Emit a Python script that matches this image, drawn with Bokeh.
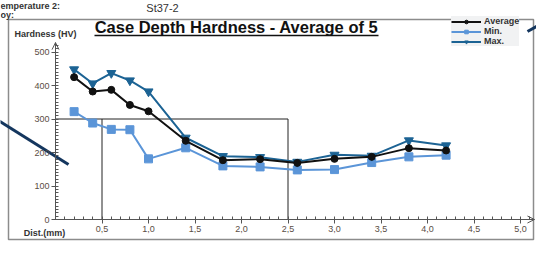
from bokeh.plotting import figure
from bokeh.models import (Range1d, FixedTicker, CustomJSTickFormatter, Label, Legend,
                          LegendItem, Arrow, OpenHead)
from bokeh.embed import file_html
from bokeh.resources import INLINE

# ---- data ----
depth_mm = [0.2, 0.4, 0.6, 0.8, 1.0, 1.4, 1.8, 2.2, 2.6, 3.0, 3.4, 3.8, 4.2]
hv_average = [425, 382, 387, 342, 323, 235, 177, 180, 169, 181, 187, 213, 206]
hv_min = [322, 288, 269, 268, 181, 214, 160, 157, 148, 149, 170, 187, 192]
hv_max = [448, 406, 437, 415, 382, 244, 189, 186, 172, 193, 190, 236, 221]

x_ticks = [0.5, 1.0, 1.5, 2.0, 2.5, 3.0, 3.5, 4.0, 4.5, 5.0]
y_ticks = [0, 100, 200, 300, 400, 500]
title_text = "Case Depth Hardness - Average of 5"
series_names = ["Average", "Min.", "Max."]
zoom_box = dict(left=0.5, right=2.5, top=300)   # overlay rectangle drawn on the document

# ---- layout (canvas pixels) ----
W, H = 536, 243
X0, SX = 55, 93.0      # canvas x of 0 mm, px per mm
Y0, SY = 219, 0.335    # canvas y of 0 HV, px per HV
FONT = "Liberation Sans"

def dx(cx):
    return (cx - X0) / SX

def dy(cy):
    return (Y0 - cy) / SY

p = figure(width=W, height=H, output_backend="svg", toolbar_location=None,
           x_range=Range1d(dx(0), dx(W)), y_range=Range1d(dy(H), dy(0)),
           min_border=0, outline_line_color=None,
           background_fill_color="white", border_fill_color="white")
p.grid.visible = False

# axes placed at the data origin
p.xaxis.fixed_location = 0
p.yaxis.fixed_location = 0
p.xaxis.bounds = (0, 5.15)
p.yaxis.bounds = (0, 528)
p.xaxis.ticker = FixedTicker(ticks=x_ticks, minor_ticks=[round(0.1 * i, 1) for i in range(1, 52)])
p.yaxis.ticker = FixedTicker(ticks=y_ticks, minor_ticks=list(range(0, 530, 10)))
p.xaxis.formatter = CustomJSTickFormatter(code="return tick.toFixed(1).replace('.', ',')")
for ax in (p.xaxis, p.yaxis):
    ax.axis_line_color = "#555555"
    ax.axis_line_width = 1
    ax.major_tick_line_color = "#555555"
    ax.minor_tick_line_color = "#555555"
    ax.major_tick_out = 4
    ax.major_tick_in = 2
    ax.minor_tick_out = 0
    ax.minor_tick_in = 3
    ax.major_label_text_font = FONT
    ax.major_label_text_font_size = "9px"
    ax.major_label_text_color = "#5a4d44"
    ax.major_label_standoff = 2

# axis arrow heads
p.add_layout(Arrow(end=OpenHead(size=7, line_color="#555555", line_width=1),
                   x_start=5.0, y_start=0, x_end=5.15, y_end=0,
                   line_color="#555555", line_width=1))
p.add_layout(Arrow(end=OpenHead(size=7, line_color="#555555", line_width=1),
                   x_start=0, y_start=500, x_end=0, y_end=528,
                   line_color="#555555", line_width=1))

# chart frame (box around the chart on the document)
p.quad(left=dx(8), right=dx(533), top=dy(19), bottom=dy(239),
       fill_color=None, line_color="#8c8c8c", line_width=1.5)

# overlay rectangle lines
p.line([0, zoom_box["right"]], [zoom_box["top"], zoom_box["top"]], line_color="#222222", line_width=1)
p.line([zoom_box["left"], zoom_box["left"]], [0, zoom_box["top"]], line_color="#222222", line_width=1)
p.line([zoom_box["right"], zoom_box["right"]], [0, zoom_box["top"]], line_color="#222222", line_width=1)

# leader lines (navy callouts)
p.line([dx(-10), dx(68)], [dy(115), dy(164)], line_color="#14365e", line_width=3)
p.line([dx(527), dx(545)], [dy(31), dy(21)], line_color="#14365e", line_width=3)

# series
c_avg, c_min, c_max = "#111111", "#5b95d8", "#1c6394"
l_min = p.line(depth_mm, hv_min, line_color=c_min, line_width=2)
s_min = p.scatter(depth_mm, hv_min, marker="square", size=8, color=c_min)
l_max = p.line(depth_mm, hv_max, line_color=c_max, line_width=2)
s_max = p.scatter(depth_mm, hv_max, marker="inverted_triangle", size=9, color=c_max)
l_avg = p.line(depth_mm, hv_average, line_color=c_avg, line_width=2)
s_avg = p.scatter(depth_mm, hv_average, marker="circle", size=7, color=c_avg)

legend = Legend(items=[LegendItem(label=series_names[0], renderers=[l_avg, s_avg]),
                       LegendItem(label=series_names[1], renderers=[l_min, s_min]),
                       LegendItem(label=series_names[2], renderers=[l_max, s_max])],
                location=(451, 197), orientation="vertical",
                label_text_font=FONT, label_text_font_size="9px", label_text_font_style="bold",
                label_text_color="#333333", label_height=9, glyph_height=9, glyph_width=30,
                label_standoff=3, spacing=0, padding=2, margin=0,
                background_fill_color="#f1f2f3", background_fill_alpha=1.0,
                border_line_color=None)
p.add_layout(legend, "center")

# texts
p.add_layout(Label(x=dx(236), y=dy(26), text=title_text, text_align="center",
                   text_baseline="middle", text_font=FONT, text_font_size="16.5px",
                   text_font_style="bold", text_color="#111111"))
p.line([dx(236 - 142), dx(236 + 142)], [dy(35), dy(35)], line_color="#111111", line_width=1.5)

p.add_layout(Label(x=dx(45), y=dy(33), text="Hardness (HV)", text_align="center",
                   text_baseline="middle", text_font=FONT, text_font_size="9px",
                   text_font_style="bold", text_color="#333333"))
p.add_layout(Label(x=dx(44), y=dy(232), text="Dist.(mm)", text_align="center",
                   text_baseline="middle", text_font=FONT, text_font_size="9px",
                   text_font_style="bold", text_color="#333333"))
p.add_layout(Label(x=dx(0), y=dy(5), text="emperature 2:", text_align="left",
                   text_baseline="middle", text_font=FONT, text_font_size="9px",
                   text_font_style="bold", text_color="#333333"))
p.add_layout(Label(x=dx(0), y=dy(14), text="oy:", text_align="left",
                   text_baseline="middle", text_font=FONT, text_font_size="9px",
                   text_font_style="bold", text_color="#333333"))
p.add_layout(Label(x=dx(162), y=dy(7), text="St37-2", text_align="center",
                   text_baseline="middle", text_font=FONT, text_font_size="11px",
                   text_color="#333333"))

open("out.html", "w").write(file_html(p, INLINE))
